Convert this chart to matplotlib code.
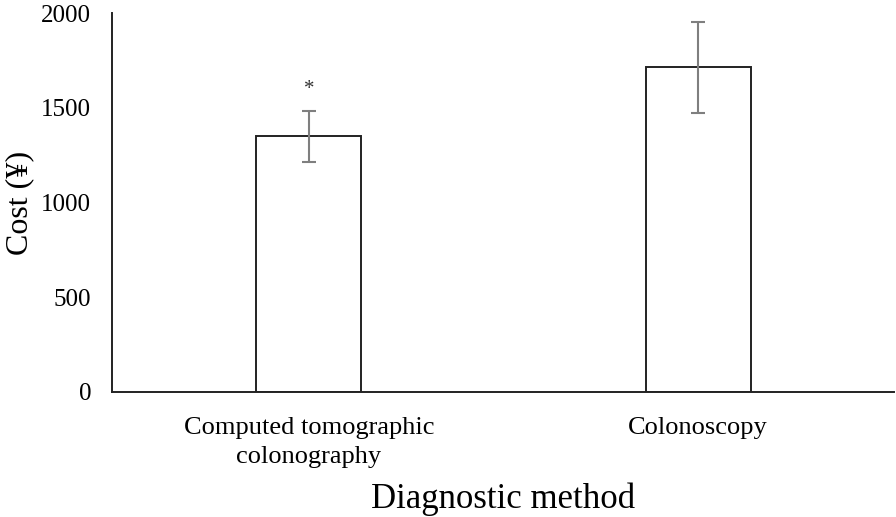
"""Bar chart: cost by diagnostic method with error bars."""
import matplotlib
matplotlib.use("Agg")
import matplotlib.pyplot as plt

methods = ["Computed tomographic\ncolonography", "Colonoscopy"]
costs = [1350, 1715]
errors = [135, 240]
sig_marks = ["*", ""]
yticks = [0, 500, 1000, 1500, 2000]

plt.rcParams["font.family"] = ["Liberation Serif", "DejaVu Serif"]

fig = plt.figure(figsize=(8.96, 5.17), dpi=100)
ax = fig.add_axes([0.125, 0.2418, 0.873, 0.733])

x = range(len(methods))
ax.bar(x, costs, width=0.27, color="white", edgecolor="#222222", linewidth=1.4,
       yerr=errors, error_kw=dict(ecolor="#7f7f7f", elinewidth=1.5, capsize=5, capthick=1.5))
for xi, c, e, m in zip(x, costs, errors, sig_marks):
    if m:
        ax.text(xi, c + e + 110, m, ha="center", va="center", fontsize=15, color="#333333")

ax.set_xlim(-0.506, 1.504)
ax.set_ylim(0, 2000)
ax.set_yticks(yticks)
ax.set_xticks(list(x))
ax.set_xticklabels(methods, fontsize=19, linespacing=1.4)
ax.tick_params(axis="y", labelsize=18, length=0, pad=15)
ax.tick_params(axis="x", length=0, pad=18)
for s in ("top", "right"):
    ax.spines[s].set_visible(False)
for s in ("left", "bottom"):
    ax.spines[s].set_linewidth(1.4)
    ax.spines[s].set_color("#222222")

ax.set_ylabel("Cost (¥)", fontsize=23)
ax.yaxis.set_label_coords(-0.10, 0.5)
ax.set_xlabel("Diagnostic method", fontsize=25)
ax.xaxis.set_label_coords(0.5, -0.24)

fig.savefig("out.png", dpi=100)
